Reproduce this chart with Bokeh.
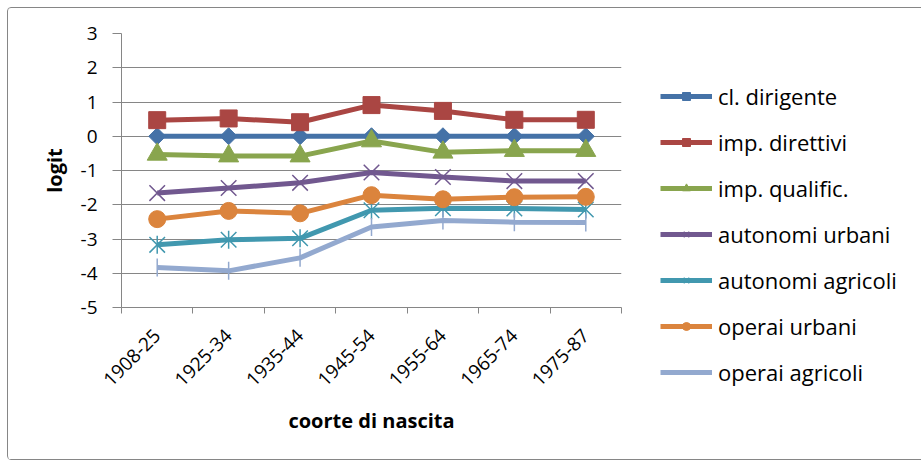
import numpy as np
from bokeh.plotting import figure
from bokeh.models import FixedTicker, Range1d, Legend, LegendItem
from bokeh.embed import file_html
from bokeh.resources import INLINE

categories = ["1908-25", "1925-34", "1935-44", "1945-54", "1955-64", "1965-74", "1975-87"]

cl_dirigente = [0.0, 0.0, 0.0, 0.0, 0.0, 0.0, 0.0]
imp_direttivi = [0.47, 0.52, 0.41, 0.91, 0.74, 0.48, 0.48]
imp_qualific = [-0.53, -0.58, -0.58, -0.14, -0.47, -0.42, -0.42]
autonomi_urbani = [-1.66, -1.51, -1.36, -1.06, -1.19, -1.31, -1.31]
autonomi_agricoli = [-3.17, -3.02, -2.98, -2.16, -2.10, -2.11, -2.14]
operai_urbani = [-2.42, -2.18, -2.25, -1.72, -1.84, -1.78, -1.77]
operai_agricoli = [-3.83, -3.93, -3.55, -2.65, -2.46, -2.51, -2.52]

y_ticks = [3, 2, 1, 0, -1, -2, -3, -4, -5]
y_tick_labels = ["3", "2", "1", "0", "-1", "-2", "-3", "-4", "-5"]

FONT = "Open Sans"
GRID = "#868686"

x = [i + 0.5 for i in range(len(categories))]
bounds = list(range(len(categories) + 1))

p = figure(output_backend="svg", toolbar_location=None,
           x_range=Range1d(0, len(categories)), y_range=Range1d(min(y_ticks), max(y_ticks)),
           frame_width=500, frame_height=274,
           min_border_left=113, min_border_top=25, min_border_right=0, min_border_bottom=152)
p.outline_line_color = None
p.background_fill_color = "white"
p.border_fill_color = "white"
p.styles = {"border": "1px solid #868686", "border-radius": "4px",
            "margin-left": "7px", "margin-top": "7px"}

p.xgrid.grid_line_color = None
p.ygrid.grid_line_color = GRID
p.ygrid.grid_line_width = 1
p.yaxis.ticker = FixedTicker(ticks=y_ticks)
p.yaxis.major_label_overrides = {t: s for t, s in zip(y_ticks, y_tick_labels)}
p.xaxis.ticker = FixedTicker(ticks=x, minor_ticks=bounds)
p.xaxis.major_label_overrides = {xx: c for xx, c in zip(x, categories)}
p.xaxis.major_label_orientation = np.pi / 4
p.xaxis.minor_tick_line_color = GRID
p.xaxis.minor_tick_out = 6
p.xaxis.minor_tick_in = 0
p.yaxis.major_tick_out = 9
p.yaxis.major_tick_in = 0
p.yaxis.minor_tick_line_color = None
for ax in (p.xaxis, p.yaxis):
    ax.axis_line_color = GRID
    ax.axis_line_width = 1
    ax.major_label_text_font = FONT
    ax.major_label_text_font_size = "19px"
    ax.major_label_text_color = "black"
    ax.axis_label_text_font = FONT
    ax.axis_label_text_font_size = "20px"
    ax.axis_label_text_font_style = "bold"
    ax.axis_label_text_color = "black"
p.yaxis.major_tick_line_color = GRID
p.xaxis.major_tick_line_color = None
p.xaxis.major_label_standoff = 19
p.yaxis.major_label_standoff = 15
p.xaxis.axis_label = "coorte di nascita"
p.yaxis.axis_label = "logit"
p.xaxis.axis_label_standoff = 12
p.yaxis.axis_label_standoff = 10

LW = 5
items = []

def series(name, vals, color, specs):
    rs = [p.line(x, vals, line_color=color, line_width=LW)]
    for spec in specs:
        rs.append(p.scatter(x, vals, **spec))
    items.append(LegendItem(label=name, renderers=rs))

series("cl. dirigente", cl_dirigente, "#4572A7",
       [dict(marker="square", size=12, angle=np.pi / 4, fill_color="#4572A7", line_color="#4572A7")])
series("imp. direttivi", imp_direttivi, "#AA4643",
       [dict(marker="square", size=17, fill_color="#AA4643", line_color="#AA4643")])
series("imp. qualific.", imp_qualific, "#89A54E",
       [dict(marker="triangle", size=20, fill_color="#89A54E", line_color="#89A54E")])
series("autonomi urbani", autonomi_urbani, "#71588F",
       [dict(marker="x", size=22, line_color="#71588F", line_width=1.5)])
series("autonomi agricoli", autonomi_agricoli, "#4198AF",
       [dict(marker="x", size=22, line_color="#4198AF", line_width=1.5),
        dict(marker="dash", size=18, angle=np.pi / 2, line_color="#4198AF", line_width=1.5)])
series("operai urbani", operai_urbani, "#DB843D",
       [dict(marker="circle", size=17, fill_color="#DB843D", line_color="#DB843D")])
series("operai agricoli", operai_agricoli, "#93A9CF",
       [dict(marker="dash", size=18, angle=np.pi / 2, line_color="#93A9CF", line_width=1.5)])

legend = Legend(items=items, location=(39, -80))
legend.border_line_color = None
legend.background_fill_alpha = 0
legend.label_text_font = FONT
legend.label_text_font_size = "22px"
legend.label_text_color = "black"
legend.glyph_width = 52
legend.glyph_height = 20
legend.label_height = 20
legend.label_standoff = 6
legend.spacing = 16
legend.padding = 0
legend.margin = 31
p.add_layout(legend, "right")

open("out.html", "w").write(file_html(p, INLINE))
